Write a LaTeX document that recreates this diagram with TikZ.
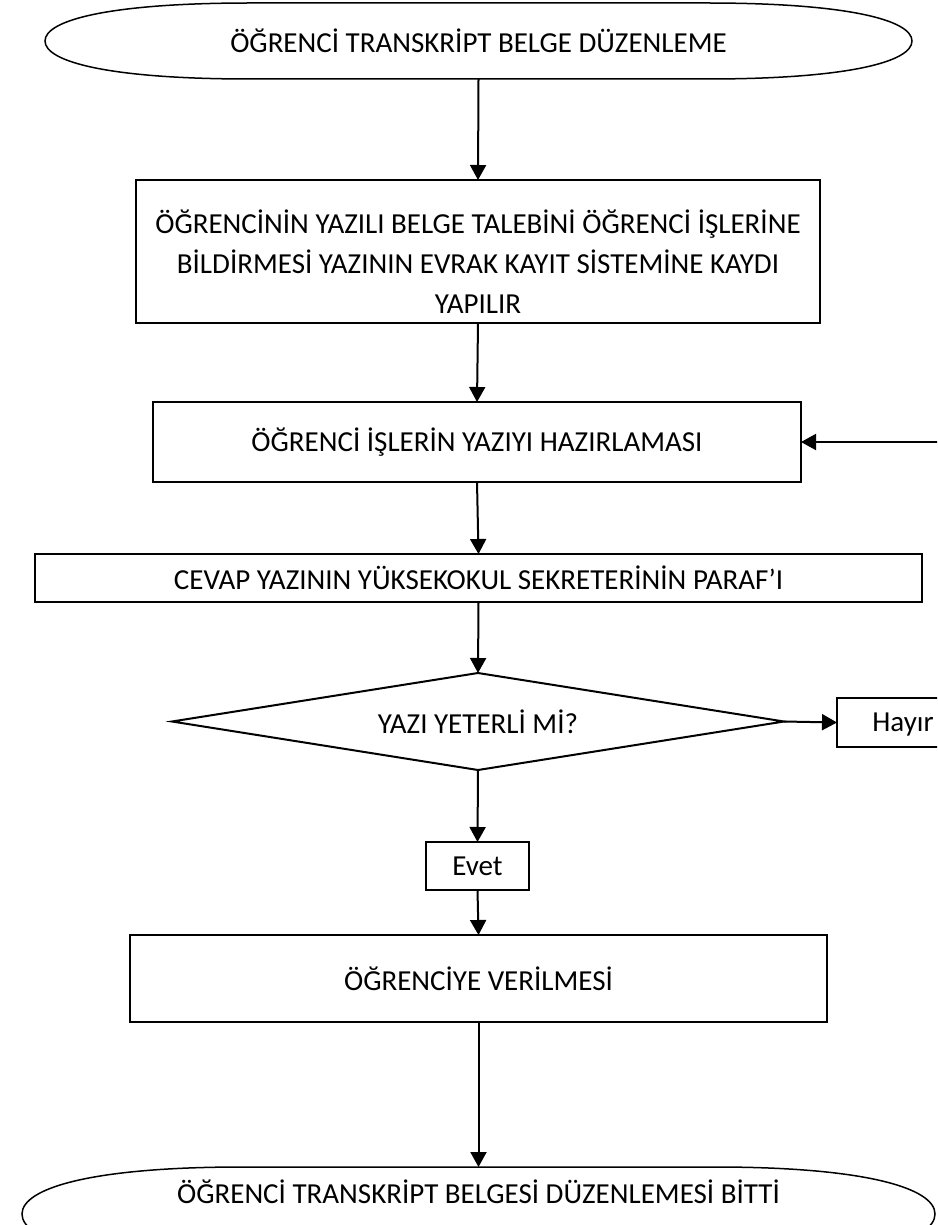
\documentclass[tikz,border=0pt]{standalone}
\usepackage{fontspec}
\setmainfont{Carlito}
\usetikzlibrary{arrows.meta}
\begin{document}
\begin{tikzpicture}[x=1pt,y=-1pt,
  every node/.style={inner sep=0pt,outer sep=0pt,font=\fontsize{29pt}{40pt}\selectfont},
  boxnode/.style={draw,line width=2pt,rectangle,align=center},
  plain/.style={draw=none,rectangle},
  arr/.style={line width=2pt,-{Triangle[length=15pt,width=16pt]}},
  outl/.style={line width=1.5pt}]
\useasboundingbox (0,0) rectangle (937,1225);
\clip (0,0) rectangle (937,1225);
\fill[white] (0,0) rectangle (937,1225);

% start terminator
\node[plain,minimum width=867pt,minimum height=76pt] (start) at (478.5,41) {ÖĞRENCİ TRANSKRİPT BELGE DÜZENLEME};
\draw[outl] (start.west) .. controls ([yshift=21pt]start.west) and ([xshift=65pt]start.north west) .. ([xshift=205pt]start.north west)
  -- ([xshift=-205pt]start.north east) .. controls ([xshift=-65pt]start.north east) and ([yshift=21pt]start.east) .. (start.east)
  .. controls ([yshift=-21pt]start.east) and ([xshift=-65pt]start.south east) .. ([xshift=-205pt]start.south east)
  -- ([xshift=205pt]start.south west) .. controls ([xshift=65pt]start.south west) and ([yshift=-21pt]start.west) .. (start.west) -- cycle;

\node[boxnode,minimum width=684pt,minimum height=143pt] (box1) at (478,251.5) {};
\node[plain,align=center] (box1text) at (478,262) {ÖĞRENCİNİN YAZILI BELGE TALEBİNİ ÖĞRENCİ İŞLERİNE\\BİLDİRMESİ YAZININ EVRAK KAYIT SİSTEMİNE KAYDI\\YAPILIR};

\node[boxnode,minimum width=648pt,minimum height=80pt] (box2) at (477,442) {ÖĞRENCİ İŞLERİN YAZIYI HAZIRLAMASI};
\node[boxnode,minimum width=887pt,minimum height=48pt] (box3) at (478.5,578) {CEVAP YAZININ YÜKSEKOKUL SEKRETERİNİN PARAF’I};
\node[plain,minimum width=612pt,minimum height=97pt] (dec) at (478,721.5) {YAZI YETERLİ Mİ?};
\draw[line width=2pt,line join=miter] (dec.north) -- (dec.east) -- (dec.south) -- (dec.west) -- cycle;
\node[boxnode,minimum width=132pt,minimum height=49pt,text depth=0pt] (hayir) at (903,722.5) {Hayır};
\node[boxnode,minimum width=103pt,minimum height=48pt] (evet) at (477.5,866) {Evet};
\node[boxnode,minimum width=697pt,minimum height=87pt] (box4) at (478.5,978.5) {ÖĞRENCİYE VERİLMESİ};

% end terminator
\node[plain,minimum width=913pt,minimum height=94pt] (endshape) at (478.5,1214) {};
\node[plain] (endtext) at (478.5,1192) {ÖĞRENCİ TRANSKRİPT BELGESİ DÜZENLEMESİ BİTTİ};
\draw[outl] (endshape.west) .. controls ([yshift=26pt]endshape.west) and ([xshift=70pt]endshape.north west) .. ([xshift=220pt]endshape.north west)
  -- ([xshift=-220pt]endshape.north east) .. controls ([xshift=-70pt]endshape.north east) and ([yshift=26pt]endshape.east) .. (endshape.east)
  .. controls ([yshift=-26pt]endshape.east) and ([xshift=-70pt]endshape.south east) .. ([xshift=-220pt]endshape.south east)
  -- ([xshift=220pt]endshape.south west) .. controls ([xshift=70pt]endshape.south west) and ([yshift=-26pt]endshape.west) .. (endshape.west) -- cycle;

\draw[arr] (start.south) -- (box1.north);
\draw[arr] (box1.south) -- (box2.north);
\draw[arr] (box2.south) -- (box3.north);
\draw[arr] (box3.south) -- (dec.north);
\draw[arr] (dec.east) -- (hayir.west);
\draw[arr] (hayir.east) -- ++(30,0) |- (box2.east);
\draw[arr] (dec.south) -- (evet.north);
\draw[arr] (evet.south) -- (box4.north);
\draw[arr] (box4.south) -- (endshape.north);
\end{tikzpicture}
\end{document}
